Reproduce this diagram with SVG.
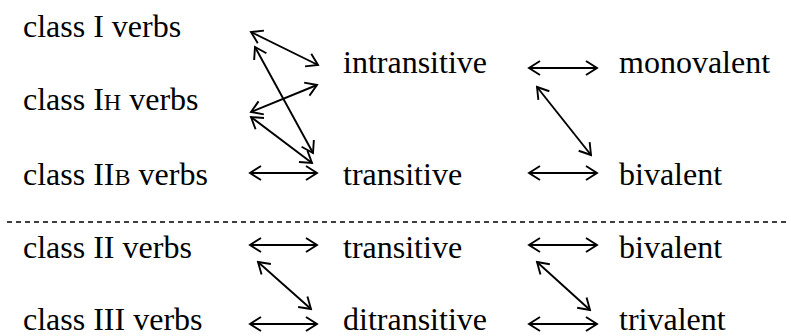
<svg xmlns="http://www.w3.org/2000/svg" width="791" height="336" viewBox="0 0 791 336">
<style>
text{font-family:"Liberation Serif","Times New Roman",serif;font-size:32px;fill:#000}
.sc{font-size:24px}
.c line{stroke:#000;stroke-width:1.9;marker-start:url(#ah);marker-end:url(#ah)}
.sep{stroke:#000;stroke-width:1.5;stroke-dasharray:5 4}
</style>
<defs>
<marker id="ah" markerUnits="userSpaceOnUse" viewBox="-13 -9 15 18" refX="0" refY="0" markerWidth="15" markerHeight="18" orient="auto-start-reverse">
<path d="M-11,-7 L0,0 L-11,7" fill="none" stroke="#000" stroke-width="1.9" stroke-linejoin="miter"/>
</marker>
</defs>
<rect width="791" height="336" fill="#fff"/>
<g id="n-class1"><text x="23" y="37">class I verbs</text></g>
<g id="n-classIH"><text x="23" y="110">class I<tspan class="sc">H</tspan> verbs</text></g>
<g id="n-classIIB"><text x="23" y="185">class II<tspan class="sc">B</tspan> verbs</text></g>
<g id="n-intransitive"><text x="343" y="73">intransitive</text></g>
<g id="n-transitive1"><text x="343" y="185">transitive</text></g>
<g id="n-monovalent"><text x="619" y="73">monovalent</text></g>
<g id="n-bivalent1"><text x="619" y="185">bivalent</text></g>
<g id="n-classII"><text x="23" y="258">class II verbs</text></g>
<g id="n-classIII"><text x="23" y="330">class III verbs</text></g>
<g id="n-transitive2"><text x="343" y="258">transitive</text></g>
<g id="n-ditransitive"><text x="343" y="330">ditransitive</text></g>
<g id="n-bivalent2"><text x="619" y="258">bivalent</text></g>
<g id="n-trivalent"><text x="619" y="330">trivalent</text></g>
<line class="sep" x1="7" y1="222" x2="787" y2="222"/>
<g id="connectors" class="c">
<line x1="251" y1="32" x2="318" y2="65"/>
<line x1="255" y1="47" x2="313" y2="153"/>
<line x1="251" y1="112" x2="317" y2="85"/>
<line x1="251" y1="117" x2="312" y2="163"/>
<line x1="250" y1="173" x2="317" y2="173"/>
<line x1="529" y1="68" x2="597" y2="68"/>
<line x1="537" y1="87" x2="591" y2="155"/>
<line x1="529" y1="173" x2="597" y2="173"/>
<line x1="250" y1="245" x2="317" y2="245"/>
<line x1="258" y1="262" x2="311" y2="309"/>
<line x1="250" y1="324" x2="317" y2="324"/>
<line x1="529" y1="245" x2="597" y2="245"/>
<line x1="537" y1="262" x2="590" y2="310"/>
<line x1="529" y1="324" x2="597" y2="324"/>
</g>
</svg>
